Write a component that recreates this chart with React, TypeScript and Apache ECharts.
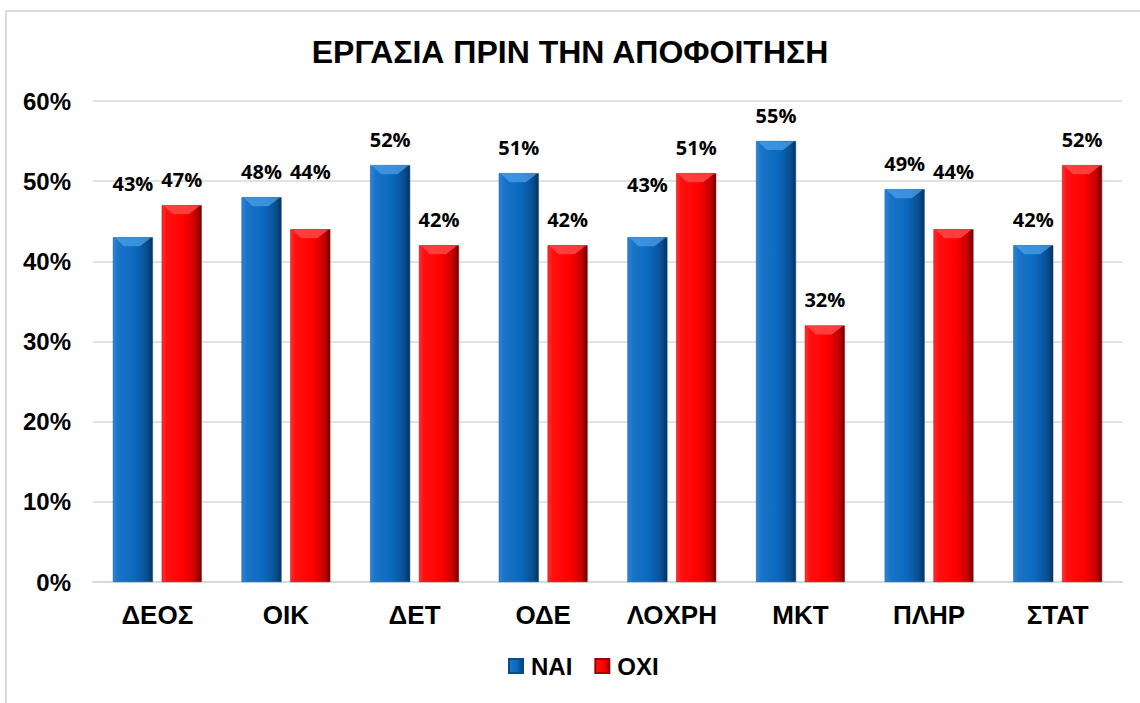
import React, { useEffect, useRef } from "react";
import * as echarts from "echarts";

const categories = ["ΔΕΟΣ", "ΟΙΚ", "ΔΕΤ", "ΟΔΕ", "ΛΟΧΡΗ", "ΜΚΤ", "ΠΛΗΡ", "ΣΤΑΤ"];
const naiValues = [43, 48, 52, 51, 43, 55, 49, 42];
const oxiValues = [47, 44, 42, 42, 51, 32, 44, 52];
const yTicks = [0, 10, 20, 30, 40, 50, 60];
const seriesNames = ["ΝΑΙ", "ΟΧΙ"];

// extra label lift (px) for manually moved labels in the original
const naiLabelLift = [28, 0, 0, 0, 27, 0, 0, 0];
const oxiLabelLift = [0, 32, 0, 0, 0, 0, 32, 0];

const BAR_W = 40;
const GAP_RATIO = 0.22;
const HALF_STEP = (BAR_W + BAR_W * GAP_RATIO) / 2;

const blueGrad = new echarts.graphic.LinearGradient(0, 0, 1, 0, [
  { offset: 0, color: "#2f86d6" },
  { offset: 0.12, color: "#1a74c8" },
  { offset: 0.55, color: "#0b69bd" },
  { offset: 0.85, color: "#0a4f92" },
  { offset: 1, color: "#06335f" },
]);
const redGrad = new echarts.graphic.LinearGradient(0, 0, 1, 0, [
  { offset: 0, color: "#ff3030" },
  { offset: 0.12, color: "#ff1010" },
  { offset: 0.55, color: "#ff0000" },
  { offset: 0.85, color: "#c80000" },
  { offset: 1, color: "#6e0000" },
]);

const labelBase = {
  show: true,
  position: "top" as const,
  distance: 16,
  formatter: "{c}%",
  fontFamily: "Open Sans",
  fontWeight: "bold" as const,
  fontSize: 20,
  color: "#000",
};

function buildData(values: number[], lifts: number[]) {
  return values.map((v, i) => ({
    value: v,
    label: { offset: [0, -lifts[i]] },
  }));
}

function capSeries(values: number[], dir: number, fill: string) {
  return {
    type: "custom",
    silent: true,
    z: 3,
    encode: { x: 0, y: 1 },
    data: values.map((v, i) => [i, v]),
    renderItem: (_p: any, api: any) => {
      const pt = api.coord([api.value(0), api.value(1)]);
      const cx = pt[0] + dir * HALF_STEP;
      const y = pt[1];
      return {
        type: "polygon",
        shape: {
          points: [
            [cx - BAR_W / 2 + 2, y + 0.5],
            [cx + BAR_W / 2 - 2, y + 0.5],
            [cx + 7, y + 9],
            [cx - 9, y + 9],
          ],
        },
        style: { fill, opacity: 0.75 },
      };
    },
  };
}

export default function App() {
  const ref = useRef<HTMLDivElement>(null);
  useEffect(() => {
    document.body.style.margin = "0";
    const chart = echarts.init(ref.current!, null, { renderer: "svg" });
    chart.setOption({
      animation: false,
      backgroundColor: "#fff",
      graphic: [
        {
          type: "rect",
          shape: { x: 6, y: 11, width: 1300, height: 900 },
          style: { fill: "none", stroke: "#d9d9d9", lineWidth: 2 },
          silent: true,
          z: -10,
        },
      ],
      title: {
        text: "ΕΡΓΑΣΙΑ ΠΡΙΝ ΤΗΝ ΑΠΟΦΟΙΤΗΣΗ",
        left: "center",
        top: 31,
        textStyle: {
          fontFamily: "Liberation Sans",
          fontWeight: "bold",
          fontSize: 32,
          color: "#000",
        },
      },
      legend: {
        bottom: 20,
        left: 503,
        itemWidth: 14,
        itemHeight: 14,
        itemGap: 22,
        icon: "rect",
        textStyle: {
          fontFamily: "Liberation Sans",
          fontWeight: "bold",
          fontSize: 24,
          color: "#000",
          padding: [0, 0, 0, 3],
        },
        data: seriesNames,
      },
      grid: { left: 93, right: 18, top: 101, bottom: 121 },
      xAxis: {
        type: "category",
        data: categories,
        axisLine: { lineStyle: { color: "#d9d9d9", width: 2 } },
        axisTick: { show: false },
        axisLabel: {
          margin: 20,
          fontFamily: "Liberation Sans",
          fontWeight: "bold",
          fontSize: 26,
          color: "#000",
        },
      },
      yAxis: {
        type: "value",
        min: yTicks[0],
        max: yTicks[yTicks.length - 1],
        interval: 10,
        axisLine: { show: false },
        axisTick: { show: false },
        splitLine: { lineStyle: { color: "#d9d9d9", width: 1.5 } },
        axisLabel: {
          margin: 22,
          formatter: "{value}%",
          fontFamily: "Liberation Sans",
          fontWeight: "bold",
          fontSize: 24,
          color: "#000",
        },
      },
      series: [
        {
          name: seriesNames[0],
          type: "bar",
          data: buildData(naiValues, naiLabelLift),
          barWidth: BAR_W,
          barGap: GAP_RATIO * 100 + "%",
          itemStyle: { color: blueGrad, borderColor: "#0a4a88", borderWidth: 0.5 },
          label: labelBase,
        },
        {
          name: seriesNames[1],
          type: "bar",
          data: buildData(oxiValues, oxiLabelLift),
          barWidth: BAR_W,
          itemStyle: { color: redGrad, borderColor: "#a00000", borderWidth: 0.5 },
          label: labelBase,
        },
        capSeries(naiValues, -1, "#4a9fe8"),
        capSeries(oxiValues, 1, "#ff5050"),
      ],
    });
    return () => chart.dispose();
  }, []);
  return <div ref={ref} style={{ width: 1140, height: 703 }} />;
}
